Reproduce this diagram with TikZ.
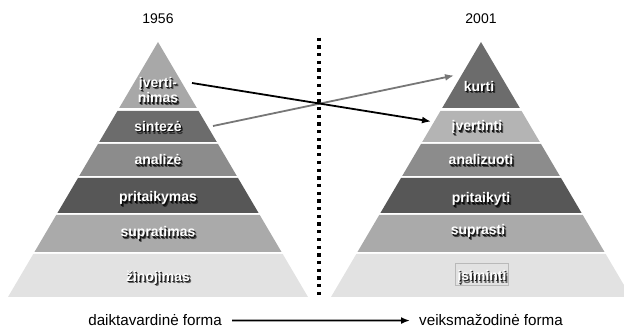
\documentclass[tikz,border=0pt]{standalone}
\usepackage{fontspec}
\setmainfont{Liberation Sans}
\usetikzlibrary{arrows.meta}

% one horizontal band of a pyramid whose apex sits at (cx,42) and whose
% half-width grows by 150 over a height of 255
\newcommand\tier[4]{% cx, top, bottom, colour
  \fill[#4] ({#1-(#2-42)*0.58824},#2) -- ({#1+(#2-42)*0.58824},#2)
    -- ({#1+(#3-42)*0.58824},#3) -- ({#1-(#3-42)*0.58824},#3) -- cycle;}

% white text over a soft drop shadow darkened from the band colour #1
\newcommand\shadowed[2]{%
  \rlap{\kern2.0pt\raisebox{-2.4pt}{\color{#1!45!black}#2}}%
  \rlap{\kern1.1pt\raisebox{-1.3pt}{\color{#1!12!black}#2}}%
  \textcolor{white}{#2}}

% label node of one band: name, x, y, band colour, text
\newcommand\tierlabel[5]{%
  \node[tierone] (#1) at (#2,#3) {\shadowed{#4}{#5}};}

\definecolor{gA}{HTML}{A8A8A8}
\definecolor{gB}{HTML}{6C6C6C}
\definecolor{gC}{HTML}{8C8C8C}
\definecolor{gD}{HTML}{575757}
\definecolor{gE}{HTML}{AAAAAA}
\definecolor{gF}{HTML}{E2E2E2}
\definecolor{gG}{HTML}{B4B4B4}
\definecolor{arrowgrey}{HTML}{777777}

\begin{document}
\begin{tikzpicture}[x=1pt,y=-1pt,
  tiertext/.style={inner sep=0pt, align=center,
    font=\bfseries\fontsize{14}{14}\selectfont},
  tierone/.style={tiertext, text height=10pt, text depth=0pt},
  year/.style={font=\fontsize{14}{16}\selectfont, inner sep=0pt, anchor=base},
  formtext/.style={font=\fontsize{15.2}{17}\selectfont, inner sep=0pt},
  dotline/.style={line width=3.3pt, dash pattern=on 3.3pt off 4.4pt},
  linkarrow/.style={line width=1.8pt, -{Latex[length=9pt,width=7pt]}},
]
\useasboundingbox (0,0) rectangle (624,328);
\clip (0,0) rectangle (624,328);

% left pyramid (1956)
\tier{158}{42}{108}{gA}
\tier{158}{111}{142}{gB}
\tier{158}{144}{176}{gC}
\tier{158}{178}{213}{gD}
\tier{158}{215}{252}{gE}
\tier{158}{254}{297}{gF}

% right pyramid (2001)
\tier{481}{42}{108}{gB}
\tier{481}{111}{142}{gG}
\tier{481}{144}{176}{gC}
\tier{481}{178}{213}{gD}
\tier{481}{215}{252}{gE}
\tier{481}{254}{297}{gF}

% years
\node[year] (y1956) at (158,23.5) {1956};
\node[year] (y2001) at (481,23.5) {2001};

% level names
\node[tiertext] (l1) at (158,91.2) {\shadowed{gA}{įverti-}\\[-1pt]\shadowed{gA}{nimas}};
\tierlabel{l2}{158}{126.7}{gB}{sintezė}
\tierlabel{l3}{158}{160}{gC}{analizė}
\tierlabel{l4}{158}{197}{gD}{pritaikymas}
\tierlabel{l5}{158}{232}{gE}{supratimas}
\tierlabel{l6}{158}{276.5}{gF}{žinojimas}

\tierlabel{r1}{479}{86.5}{gB}{kurti}
\tierlabel{r2}{477}{126}{gG}{įvertinti}
\tierlabel{r3}{481}{160}{gC}{analizuoti}
\tierlabel{r4}{481}{198}{gD}{pritaikyti}
\tierlabel{r5}{478}{230}{gE}{suprasti}
\tierlabel{r6}{482}{275.7}{gF}{įsiminti}
\draw[gray!55, line width=0.5pt] (455,263) rectangle (508,285);

% divider
\coordinate (divTop) at (319,37.7);
\coordinate (divBot) at (319,299);
\draw[dotline] (divTop) -- (divBot);

% reordering of the two top levels
\coordinate (evalFrom) at (192,83);
\coordinate (evalTo) at (431,121.5);
\coordinate (synFrom) at (213,126);
\coordinate (synTo) at (454,75.5);
\draw[linkarrow, arrowgrey] (synFrom) -- (synTo);
\draw[linkarrow, black] (evalFrom) -- (evalTo);

% noun form -> verb form
\node[formtext, anchor=base east] (noun) at (222,326) {daiktavardinė forma};
\node[formtext, anchor=base west] (verb) at (419,326) {veiksmažodinė forma};
\draw[line width=1.8pt, -{Latex[length=9pt,width=7pt]}]
  ([xshift=10pt]noun.east) -- ([xshift=-9pt]verb.west);
\end{tikzpicture}
\end{document}
